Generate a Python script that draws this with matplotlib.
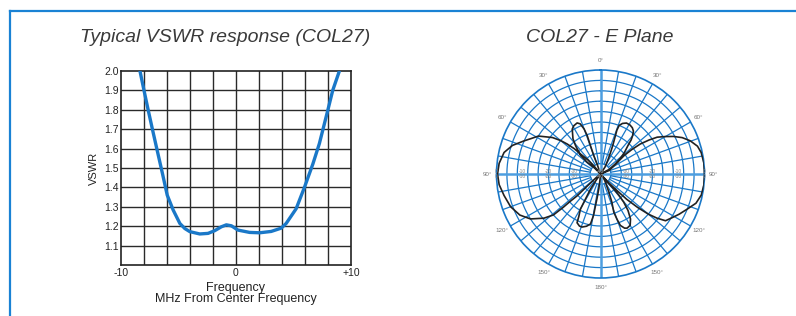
"""COL27 datasheet panel: typical VSWR response and E-plane radiation pattern."""

import matplotlib

matplotlib.use("Agg")
import matplotlib.pyplot as plt
import numpy as np
from matplotlib.lines import Line2D

plt.rcParams["font.family"] = ["Liberation Sans", "DejaVu Sans"]

# ── data ──────────────────────────────────────────────────────────────────────
vswr_freq = [-8.35, -8.0, -7.63, -7.25, -6.85, -6.39, -5.98, -5.46, -4.88, -4.45,
             -4.02, -3.15, -2.43, -1.85, -1.27, -0.84, -0.40, 0.17, 1.18, 2.05,
             3.06, 3.93, 4.36, 5.23, 5.95, 6.68, 7.25, 7.98, 8.41, 8.99]
vswr_vals = [2.0, 1.9, 1.797, 1.695, 1.59, 1.47, 1.36, 1.283, 1.214, 1.188,
             1.172, 1.16, 1.163, 1.177, 1.197, 1.207, 1.202, 1.18, 1.168, 1.166,
             1.173, 1.19, 1.214, 1.29, 1.40, 1.52, 1.626, 1.797, 1.90, 2.0]
vswr_yticks = [1.1, 1.2, 1.3, 1.4, 1.5, 1.6, 1.7, 1.8, 1.9, 2.0]
freq_ticks = [-10, 0, 10]
freq_ticklabels = ["-10", "0", "+10"]

# E-plane pattern traced lobe by lobe (deg clockwise from 0°, relative field)
pattern_deg = [
    0, 33, 28, 25, 23, 21.5, 20.5, 21, 23.5, 27, 31, 34.5, 37.5, 40, 42, 44, 48,
    52, 56, 62, 60,
    68, 56, 52, 52, 53, 55, 57, 60, 62.8, 66, 69.7, 74, 78, 84, 90, 96, 101.8,
    107, 112, 117, 121, 125.7, 128, 130, 132, 134, 135, 137, 140,
    143, 149, 155, 158, 160.8, 160, 158.9, 156, 153.8, 150, 146.3, 143, 140.5,
    139, 138.4, 140, 180,
    215, 213.7, 211, 209.7, 207, 205.7, 202, 199.2, 195, 191.3, 189.5, 189, 188,
    186.5, 185, 220,
    230, 228, 227, 228, 228.2, 229, 232, 237.3, 243, 250, 257.4, 264, 270, 276,
    282.6, 288, 293.5, 297, 301.4, 304, 307.2, 310, 312, 314, 315, 318, 321, 320,
    315, 311.3, 313, 318.5, 322, 327.8, 331, 335.4, 338, 340, 340.9, 340.5,
    339.9, 341, 360,
]
pattern_r = [
    0.0, 0.08, 0.15, 0.23, 0.31, 0.38, 0.45, 0.50, 0.53, 0.55, 0.55, 0.54, 0.52,
    0.48, 0.44, 0.38, 0.31, 0.24, 0.17, 0.10, 0.0,
    0.09, 0.19, 0.29, 0.38, 0.48, 0.57, 0.65, 0.72, 0.79, 0.86, 0.92, 0.97, 0.99,
    1.0, 1.0, 1.0, 0.99, 0.96, 0.90, 0.85, 0.81, 0.77, 0.69, 0.60, 0.48, 0.35,
    0.23, 0.12, 0.0,
    0.05, 0.09, 0.19, 0.29, 0.39, 0.46, 0.53, 0.57, 0.58, 0.57, 0.52, 0.44, 0.35,
    0.27, 0.19, 0.10, 0.0,
    0.08, 0.17, 0.28, 0.39, 0.46, 0.52, 0.54, 0.54, 0.52, 0.49, 0.40, 0.31, 0.23,
    0.14, 0.06, 0.0,
    0.06, 0.13, 0.31, 0.40, 0.48, 0.60, 0.69, 0.80, 0.87, 0.92, 0.95, 0.98, 0.99,
    0.98, 0.95, 0.89, 0.80, 0.75, 0.70, 0.64, 0.58, 0.50, 0.43, 0.35, 0.27, 0.19,
    0.10, 0.0,
    0.08, 0.17, 0.26, 0.36, 0.43, 0.51, 0.53, 0.54, 0.52, 0.46, 0.39, 0.29, 0.19,
    0.10, 0.0,
]
angle_labels = {0: "0°", 30: "30°", 60: "60°", 90: "90°", 120: "120°",
                150: "150°", 180: "180°", 210: "150°", 240: "120°", 270: "90°",
                300: "60°", 330: "30°"}
ring_labels = ["-40", "-30", "-20", "-10", "0"]

# ── figure ────────────────────────────────────────────────────────────────────
blue = "#1a78c8"
fig = plt.figure(figsize=(7.96, 3.16), dpi=100)
fig.patch.set_facecolor("white")

# page frame (top and left rules)
fig.add_artist(Line2D([10 / 796, 1.0], [1 - 11 / 316, 1 - 11 / 316],
                      color="#1a82d4", lw=1.6, transform=fig.transFigure))
fig.add_artist(Line2D([10 / 796, 10 / 796], [0.0, 1 - 11 / 316],
                      color="#1a82d4", lw=1.6, transform=fig.transFigure))

fig.text(225 / 796, 1 - 38 / 316, "Typical VSWR response (COL27)",
         ha="center", va="center", fontsize=14, style="italic", color="#3a3a3a")
fig.text(600 / 796, 1 - 38 / 316, "COL27 - E Plane",
         ha="center", va="center", fontsize=14, style="italic", color="#3a3a3a")

# ── VSWR chart ────────────────────────────────────────────────────────────────
ax = fig.add_axes([121 / 796, 1 - 265 / 316, 230 / 796, 194 / 316])
ax.set_xlim(-10, 10)
ax.set_ylim(1.0, 2.0)
for xv in range(-8, 10, 2):
    ax.axvline(xv, color="#2a2a2a", lw=1.0, zorder=1)
for yv in vswr_yticks[:-1]:
    ax.axhline(yv, color="#2a2a2a", lw=1.0, zorder=1)
ax.plot(vswr_freq, vswr_vals, color=blue, lw=2.4, solid_capstyle="round", zorder=3)
for side in ax.spines.values():
    side.set_color("#222222")
    side.set_linewidth(1.2)
ax.set_yticks(vswr_yticks)
ax.set_yticklabels([f"{v:.1f}" for v in vswr_yticks])
ax.set_xticks(freq_ticks)
ax.set_xticklabels(freq_ticklabels)
ax.tick_params(length=0, labelsize=7.5, colors="#222222", pad=1.5)
ax.tick_params(axis="x", pad=2)
ax.set_ylabel("VSWR", fontsize=8, color="#222222", labelpad=4)
ax.set_xlabel("Frequency\nMHz From Center Frequency", fontsize=9,
              color="#222222", labelpad=3, linespacing=0.95)

# ── E-plane polar ─────────────────────────────────────────────────────────────
cx, cy, R = 600.5, 174, 104
pax = fig.add_axes([(cx - R) / 796, 1 - (cy + R) / 316, 2 * R / 796, 2 * R / 316],
                   projection="polar")
pax.set_theta_zero_location("N")
pax.set_theta_direction(-1)
pax.set_ylim(0, 1)
pax.grid(False)
pax.set_xticks([])
pax.set_yticks([])
pax.spines["polar"].set_color(blue)
pax.spines["polar"].set_linewidth(1.2)

n_rings = 10
full = np.linspace(0, 2 * np.pi, 361)
for k in range(1, n_rings):
    pax.plot(full, np.full_like(full, k / n_rings), color=blue, lw=0.9, zorder=1)
for d in range(0, 360, 10):
    th = np.radians(d)
    main = d % 90 == 0
    pax.plot([th, th], [0 if main else 1 / n_rings, 1],
             color="#4d9ee0" if main else blue, lw=1.8 if main else 0.9, zorder=1)

pax.plot(np.radians(pattern_deg), pattern_r, color="#222222", lw=1.2, zorder=3)

for d, txt in angle_labels.items():
    pax.text(np.radians(d), 1.09, txt, ha="center", va="center",
             fontsize=4.5, color="#777777")
for i, txt in enumerate(ring_labels):
    rr = i / 4
    for d in (90, 270):
        th = np.radians(d)
        pax.text(th, rr, txt, ha="center", va="bottom", fontsize=3.5,
                 color="#888888", clip_on=False)
        pax.text(th, rr, txt, ha="center", va="top", fontsize=3.5,
                 color="#888888", clip_on=False)

fig.savefig("out.png", dpi=100)
